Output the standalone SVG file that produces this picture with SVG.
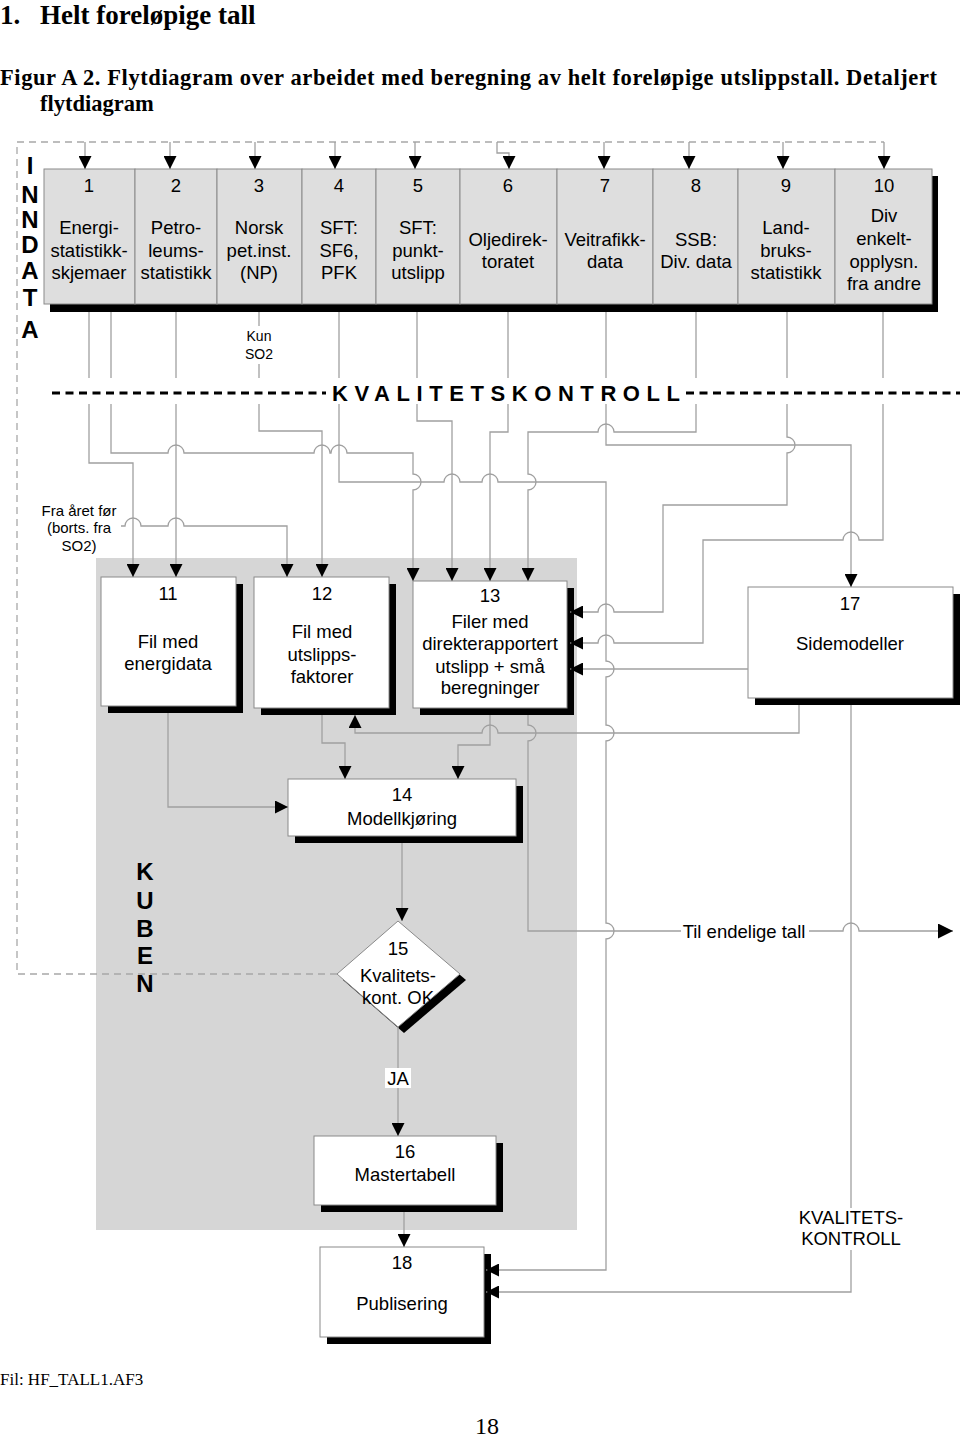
<svg xmlns="http://www.w3.org/2000/svg" width="960" height="1438" viewBox="0 0 960 1438">
<style>
.t{font-family:"Liberation Sans",Arial,sans-serif;font-size:18.5px;text-anchor:middle;fill:#000}
.sm{font-family:"Liberation Sans",Arial,sans-serif;font-size:14px;text-anchor:middle;fill:#000}
.big{font-family:"Liberation Sans",Arial,sans-serif;font-size:24px;font-weight:bold;text-anchor:middle;fill:#000}
.ser{font-family:"Liberation Serif","Times New Roman",serif;fill:#000}
.col{fill:#dedede;stroke:#8a8a8a;stroke-width:1}
.box{fill:#fff;stroke:#8a8a8a;stroke-width:1}
.sh{fill:#000}
.ln{fill:none;stroke:#a0a0a0;stroke-width:1.3}
.la{fill:none;stroke:#a0a0a0;stroke-width:1.3;marker-end:url(#ah)}
.dash{fill:none;stroke:#a8a8a8;stroke-width:1.3;stroke-dasharray:7 5}
.kd{fill:none;stroke:#000;stroke-width:3;stroke-dasharray:8 5.5}
</style>
<defs>
<marker id="ah" viewBox="0 0 13 13" refX="13" refY="6.5" markerWidth="13" markerHeight="13" markerUnits="userSpaceOnUse" orient="auto">
<path d="M0,0 L13,6.5 L0,13 z" fill="#000"/>
</marker>
<marker id="ahb" viewBox="0 0 15 15" refX="15" refY="7.5" markerWidth="15" markerHeight="15" markerUnits="userSpaceOnUse" orient="auto">
<path d="M0,0 L15,7.5 L0,15 z" fill="#000"/>
</marker>
</defs>
<rect width="960" height="1438" fill="#fff"/>

<g id="titles">
<text class="ser" x="0" y="24" font-size="27" font-weight="bold">1.</text>
<text class="ser" x="40" y="24" font-size="27" font-weight="bold">Helt foreløpige tall</text>
<text class="ser" x="0" y="85" font-size="22.5" font-weight="bold" textLength="937" lengthAdjust="spacing">Figur A 2.  Flytdiagram over arbeidet med beregning av helt foreløpige utslippstall. Detaljert</text>
<text class="ser" x="40" y="111" font-size="22.5" font-weight="bold">flytdiagram</text>
<text class="ser" x="0" y="1385" font-size="17">Fil: HF_TALL1.AF3</text>
<text class="ser" x="487" y="1434" font-size="24" text-anchor="middle">18</text>
</g>

<g id="kuben-region">
<rect x="96" y="558" width="481" height="672" fill="#d6d6d6"/>
<text class="big" font-size="22" x="145" y="880">K</text>
<text class="big" font-size="22" x="145" y="909">U</text>
<text class="big" font-size="22" x="145" y="937">B</text>
<text class="big" font-size="22" x="145" y="964">E</text>
<text class="big" font-size="22" x="145" y="992">N</text>
</g>

<g id="inndata-label">
<text class="big" x="30" y="174">I</text>
<text class="big" x="30" y="203">N</text>
<text class="big" x="30" y="228">N</text>
<text class="big" x="30" y="253">D</text>
<text class="big" x="30" y="279">A</text>
<text class="big" x="30" y="306">T</text>
<text class="big" x="30" y="338">A</text>
</g>

<g id="kvalitetskontroll-line">
<path class="kd" d="M52,393 H326"/>
<path class="kd" d="M686,393 H960"/>
<text x="332" y="401" font-family="Liberation Sans,Arial,sans-serif" font-size="22" font-weight="bold" textLength="348" lengthAdjust="spacing">KVALITETSKONTROLL</text>
</g>

<g id="inndata-row">
<rect class="sh" x="50" y="176" width="888" height="136"/>
</g>
<g id="n1"><rect class="col" x="44" y="169" width="91" height="135"/>
<text class="t" x="89" y="192">1</text><text class="t" x="89" y="234">Energi-</text><text class="t" x="89" y="257">statistikk-</text><text class="t" x="89" y="279">skjemaer</text></g>
<g id="n2"><rect class="col" x="135" y="169" width="82" height="135"/>
<text class="t" x="176" y="192">2</text><text class="t" x="176" y="234">Petro-</text><text class="t" x="176" y="257">leums-</text><text class="t" x="176" y="279">statistikk</text></g>
<g id="n3"><rect class="col" x="217" y="169" width="85" height="135"/>
<text class="t" x="259" y="192">3</text><text class="t" x="259" y="234">Norsk</text><text class="t" x="259" y="257">pet.inst.</text><text class="t" x="259" y="279">(NP)</text></g>
<g id="n4"><rect class="col" x="302" y="169" width="74" height="135"/>
<text class="t" x="339" y="192">4</text><text class="t" x="339" y="234">SFT:</text><text class="t" x="339" y="257">SF6,</text><text class="t" x="339" y="279">PFK</text></g>
<g id="n5"><rect class="col" x="376" y="169" width="84" height="135"/>
<text class="t" x="418" y="192">5</text><text class="t" x="418" y="234">SFT:</text><text class="t" x="418" y="257">punkt-</text><text class="t" x="418" y="279">utslipp</text></g>
<g id="n6"><rect class="col" x="460" y="169" width="97" height="135"/>
<text class="t" x="508" y="192">6</text><text class="t" x="508" y="246">Oljedirek-</text><text class="t" x="508" y="268">toratet</text></g>
<g id="n7"><rect class="col" x="557" y="169" width="96" height="135"/>
<text class="t" x="605" y="192">7</text><text class="t" x="605" y="246">Veitrafikk-</text><text class="t" x="605" y="268">data</text></g>
<g id="n8"><rect class="col" x="653" y="169" width="85" height="135"/>
<text class="t" x="696" y="192">8</text><text class="t" x="696" y="246">SSB:</text><text class="t" x="696" y="268">Div. data</text></g>
<g id="n9"><rect class="col" x="738" y="169" width="97" height="135"/>
<text class="t" x="786" y="192">9</text><text class="t" x="786" y="234">Land-</text><text class="t" x="786" y="257">bruks-</text><text class="t" x="786" y="279">statistikk</text></g>
<g id="n10"><rect class="col" x="835" y="169" width="97" height="135"/>
<text class="t" x="884" y="192">10</text><text class="t" x="884" y="222">Div</text><text class="t" x="884" y="245">enkelt-</text><text class="t" x="884" y="268">opplysn.</text><text class="t" x="884" y="290">fra andre</text></g>

<g id="n11"><rect class="sh" x="108" y="584" width="135" height="129"/><rect class="box" x="101" y="577" width="135" height="129"/>
<text class="t" x="168" y="600">11</text><text class="t" x="168" y="648">Fil med</text><text class="t" x="168" y="670">energidata</text></g>
<g id="n12"><rect class="sh" x="261" y="584" width="135" height="131"/><rect class="box" x="254" y="577" width="135" height="131"/>
<text class="t" x="322" y="600">12</text><text class="t" x="322" y="638">Fil med</text><text class="t" x="322" y="661">utslipps-</text><text class="t" x="322" y="683">faktorer</text></g>
<g id="n13"><rect class="sh" x="420" y="588" width="154" height="127"/><rect class="box" x="413" y="581" width="154" height="127"/>
<text class="t" x="490" y="602">13</text><text class="t" x="490" y="628">Filer med</text><text class="t" x="490" y="650">direkterapportert</text><text class="t" x="490" y="673">utslipp + små</text><text class="t" x="490" y="694">beregninger</text></g>
<g id="n17"><rect class="sh" x="755" y="594" width="205" height="111"/><rect class="box" x="748" y="587" width="205" height="111"/>
<text class="t" x="850" y="610">17</text><text class="t" x="850" y="650">Sidemodeller</text></g>
<g id="n14"><rect class="sh" x="295" y="786" width="228" height="57"/><rect class="box" x="288" y="779" width="228" height="57"/>
<text class="t" x="402" y="801">14</text><text class="t" x="402" y="825">Modellkjøring</text></g>
<g id="n15"><polygon class="sh" points="404,927 466,980 404,1033 343,980"/><polygon class="box" points="398,921 460,974 398,1027 337,974"/>
<text class="t" x="398" y="955">15</text><text class="t" x="398" y="982">Kvalitets-</text><text class="t" x="398" y="1004">kont. OK</text></g>
<g id="n16"><rect class="sh" x="321" y="1143" width="182" height="69"/><rect class="box" x="314" y="1136" width="182" height="69"/>
<text class="t" x="405" y="1158">16</text><text class="t" x="405" y="1181">Mastertabell</text></g>
<g id="n18"><rect class="sh" x="327" y="1254" width="164" height="90"/><rect class="box" x="320" y="1247" width="164" height="90"/>
<text class="t" x="402" y="1269">18</text><text class="t" x="402" y="1310">Publisering</text></g>

<g id="connectors">
<path class="dash" d="M337,974 H17 V142 H884"/>
<path class="la" d="M85,142 V169"/>
<path class="la" d="M170,142 V169"/>
<path class="la" d="M255,142 V169"/>
<path class="la" d="M335,142 V169"/>
<path class="la" d="M415,142 V169"/>
<path class="la" d="M497,142 V153 H509 V169"/>
<path class="la" d="M604,142 V169"/>
<path class="la" d="M689,142 V169"/>
<path class="la" d="M783,142 V169"/>
<path class="la" d="M884,142 V169"/>

<path class="ln" d="M89,312 V378 M111,312 V378 M176,312 V378 M259,312 V326 M259,364 V378 M339,312 V378 M417,312 V378 M508,312 V378 M606,312 V378 M696,312 V378 M787,312 V378 M883,312 V378"/>

<path class="la" d="M89,404 V463 H133 V577"/>
<path class="la" d="M111,404 V453 H168 A8,8 0 0 1 184,453 H314 A8,8 0 0 1 330,453 H331 A8,8 0 0 1 347,453 H413 V474 A8,8 0 0 1 413,490 V581"/>
<path class="la" d="M176,404 V577"/>
<path class="la" d="M259,404 V431 H322 V577"/>
<path class="la" d="M121,526 H125 A8,8 0 0 1 141,526 H168 A8,8 0 0 1 184,526 H287 V577"/>
<path class="la" d="M339,404 V482 H444 A8,8 0 0 1 460,482 H482 A8,8 0 0 1 498,482 H606 V661 A8,8 0 0 1 606,677 V725 A8,8 0 0 1 606,741 V923 A8,8 0 0 1 606,939 V1270 H486"/>
<path class="la" d="M417,404 V421 H452 V581"/>
<path class="la" d="M508,404 V432 H490 V581"/>
<path class="la" d="M606,404 V445 H851 V587"/>
<path class="la" d="M696,404 V432 H614 A8,8 0 0 0 598,432 H528 V474 A8,8 0 0 1 528,490 V581"/>
<path class="la" d="M787,404 V437 A8,8 0 0 1 787,453 V505 H663 V612 H614 A8,8 0 0 0 598,612 H570"/>
<path class="la" d="M883,404 V540 H859 A8,8 0 0 0 843,540 H703 V643 H614 A8,8 0 0 0 598,643 H570"/>
<path class="la" d="M748,669 H570"/>
<path class="la" d="M799,705 V733 H498 A8,8 0 0 0 482,733 H355 V715"/>
<path class="la" d="M851,705 V1292 H486"/>
<path class="ln" d="M528,715 V725 A8,8 0 0 1 528,741 V931 H843 A8,8 0 0 1 859,931 H953" marker-end="url(#ahb)"/>
<path class="la" d="M168,713 V807 H288"/>
<path class="la" d="M322,715 V743 H345 V779"/>
<path class="la" d="M490,715 V745 H458 V779"/>
<path class="la" d="M402,843 V921"/>
<path class="la" d="M398,1027 V1136"/>
<path class="la" d="M404,1212 V1247"/>

<text class="sm" x="259" y="341">Kun</text>
<text class="sm" x="259" y="359">SO2</text>
<text x="79" y="516" font-family="Liberation Sans,Arial,sans-serif" font-size="15" text-anchor="middle">Fra året før</text>
<text x="79" y="533" font-family="Liberation Sans,Arial,sans-serif" font-size="15" text-anchor="middle">(borts. fra</text>
<text x="79" y="551" font-family="Liberation Sans,Arial,sans-serif" font-size="15" text-anchor="middle">SO2)</text>
<rect x="681" y="921" width="128" height="20" fill="#fff"/>
<text class="t" x="744" y="938" font-size="18">Til endelige tall</text>
<rect x="385" y="1068" width="26" height="20" fill="#fff"/>
<text class="t" x="398" y="1085" font-size="18">JA</text>
<rect x="796" y="1208" width="110" height="42" fill="#fff"/>
<text class="t" x="851" y="1224" font-size="18">KVALITETS-</text>
<text class="t" x="851" y="1245" font-size="18">KONTROLL</text>
</g>
</svg>
